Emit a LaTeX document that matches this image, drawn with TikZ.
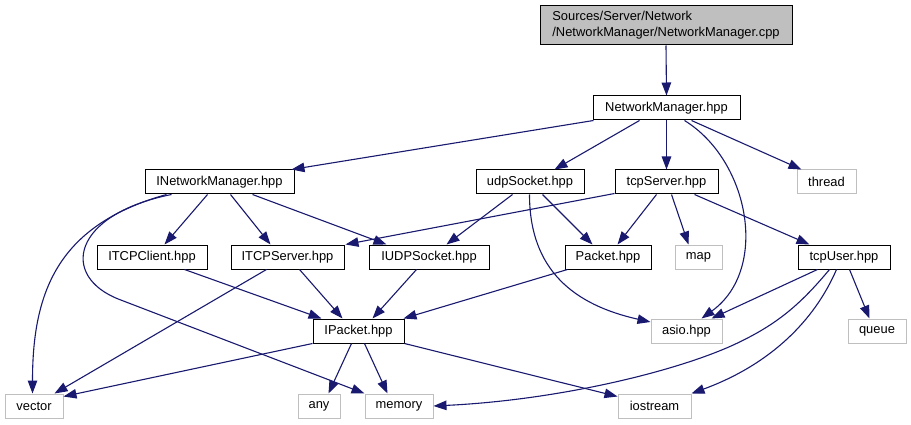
\documentclass[tikz,border=0pt]{standalone}
\usepackage{fontspec}
\setmainfont{Liberation Sans}
\usetikzlibrary{arrows.meta}
\definecolor{edgeblue}{HTML}{191970}
\definecolor{lgray}{HTML}{BFBFBF}
\begin{document}
\begin{tikzpicture}[x=1pt,y=1pt,
  file/.style={draw=black, line width=1pt, fill=white, inner sep=0pt, minimum height=24pt, font=\fontsize{12.9}{16}\selectfont},
  sys/.style={file, draw=lgray},
  edge/.style={draw=edgeblue, line width=1.1pt, -{Triangle[length=13pt,width=9.5pt]}}]
\useasboundingbox (0,0) rectangle (911,-425);
\fill[white] (0,0) rectangle (911,-425);
% nodes
\node[file, fill=lgray, minimum width=252pt, minimum height=39pt, align=left] (cpp) at (666,-25.5) {Sources/Server/Network\\/NetworkManager/NetworkManager.cpp};
\node[file, minimum width=147pt] (NMh) at (666.5,-108) {NetworkManager.hpp};
\node[file, minimum width=149pt] (INM) at (219.5,-182) {INetworkManager.hpp};
\node[file, minimum width=108pt] (udp) at (530,-182) {udpSocket.hpp};
\node[file, minimum width=103pt] (tcpS) at (666.5,-182) {tcpServer.hpp};
\node[sys, minimum width=59pt] (thread) at (826.5,-182) {thread};
\node[file, minimum width=110pt] (ITCPC) at (152,-257) {ITCPClient.hpp};
\node[file, minimum width=113pt] (ITCPS) at (287.5,-257) {ITCPServer.hpp};
\node[file, minimum width=120pt] (IUDP) at (429,-257) {IUDPSocket.hpp};
\node[file, minimum width=86pt] (Packet) at (608,-257) {Packet.hpp};
\node[sys, minimum width=47pt] (map) at (698.5,-257) {map};
\node[file, minimum width=92pt] (tcpU) at (844,-257) {tcpUser.hpp};
\node[file, minimum width=91pt] (IPacket) at (358.5,-331) {IPacket.hpp};
\node[sys, minimum width=71pt] (asio) at (686.5,-331) {asio.hpp};
\node[sys, minimum width=58pt] (queue) at (877,-331) {queue};
\node[sys, minimum width=58pt] (vector) at (34,-406) {vector};
\node[sys, minimum width=42pt] (any) at (319,-406) {any};
\node[sys, minimum width=68pt] (memory) at (399,-406) {memory};
\node[sys, minimum width=73pt] (iostream) at (654.5,-406) {iostream};
% edges
\draw[edge] (cpp.south) -- (NMh.north);
\draw[edge] ([xshift=1]NMh.south west) -- ([xshift=-3]INM.north east);
\draw[edge] ([xshift=47]NMh.south west) -- ([xshift=79]udp.north west);
\draw[edge] (NMh.south) -- (tcpS.north);
\draw[edge] ([xshift=99]NMh.south west) -- ([xshift=5]thread.north west);
\draw[edge] ([xshift=92]NMh.south west) .. controls +(65,-40) and +(68,49) .. ([xshift=51]asio.north west);
\draw[edge] ([xshift=22]INM.south west) .. controls +(-107,-30) and +(0,104) .. ([xshift=28]vector.north west);
\draw[edge] ([xshift=27]INM.south west) .. controls +(-100,-20) and +(-60,23) .. ++(-52,-105) -- (memory.north west);
\draw[edge] ([xshift=63]INM.south west) -- ([xshift=68]ITCPC.north west);
\draw[edge] ([xshift=86]INM.south west) -- ([xshift=40]ITCPS.north west);
\draw[edge] ([xshift=108]INM.south west) -- ([xshift=18]IUDP.north west);
\draw[edge] ([xshift=37]udp.south west) -- ([xshift=78]IUDP.north west);
\draw[edge] ([xshift=67]udp.south west) -- ([xshift=28]Packet.north west);
\draw[edge] ([xshift=54]udp.south west) .. controls +(0,-76) and +(-76,17) .. ([yshift=9]asio.west);
\draw[edge] ([yshift=1]tcpS.south west) -- ([xshift=1]ITCPS.north east);
\draw[edge] ([xshift=42]tcpS.south west) -- ([xshift=53]Packet.north west);
\draw[edge] ([xshift=57]tcpS.south west) -- ([xshift=14]map.north west);
\draw[edge] ([xshift=80]tcpS.south west) -- ([xshift=12]tcpU.north west);
\draw[edge] ([xshift=20]tcpU.south west) -- ([xshift=61]asio.north west);
\draw[edge] ([xshift=52]tcpU.south west) -- ([xshift=22]queue.north west);
\draw[edge] ([xshift=32]tcpU.south west) .. controls +(-30,-36) and +(40,19) .. ++(-93,-74) .. controls +(-57,-27) and +(127,6) .. (memory.east);
\draw[edge] ([xshift=39]tcpU.south west) .. controls +(-22,-51) and +(79,29) .. (iostream.north east);
\draw[edge] ([xshift=88]ITCPC.south west) -- ([xshift=9]IPacket.north west);
\draw[edge] ([xshift=69]ITCPS.south west) -- ([xshift=30]IPacket.north west);
\draw[edge] ([xshift=36]ITCPS.south west) -- ([xshift=50]vector.north west);
\draw[edge] ([xshift=48]IUDP.south west) -- ([xshift=60]IPacket.north west);
\draw[edge] ([xshift=3]Packet.south west) -- ([xshift=-1]IPacket.north east);
\draw[edge] (IPacket.south west) -- ([yshift=-3]vector.north east);
\draw[edge] ([xshift=39]IPacket.south west) -- ([xshift=31]any.north west);
\draw[edge] ([xshift=52]IPacket.south west) -- ([xshift=23]memory.north west);
\draw[edge] (IPacket.south east) -- ([yshift=-3]iostream.north west);
\end{tikzpicture}
\end{document}
